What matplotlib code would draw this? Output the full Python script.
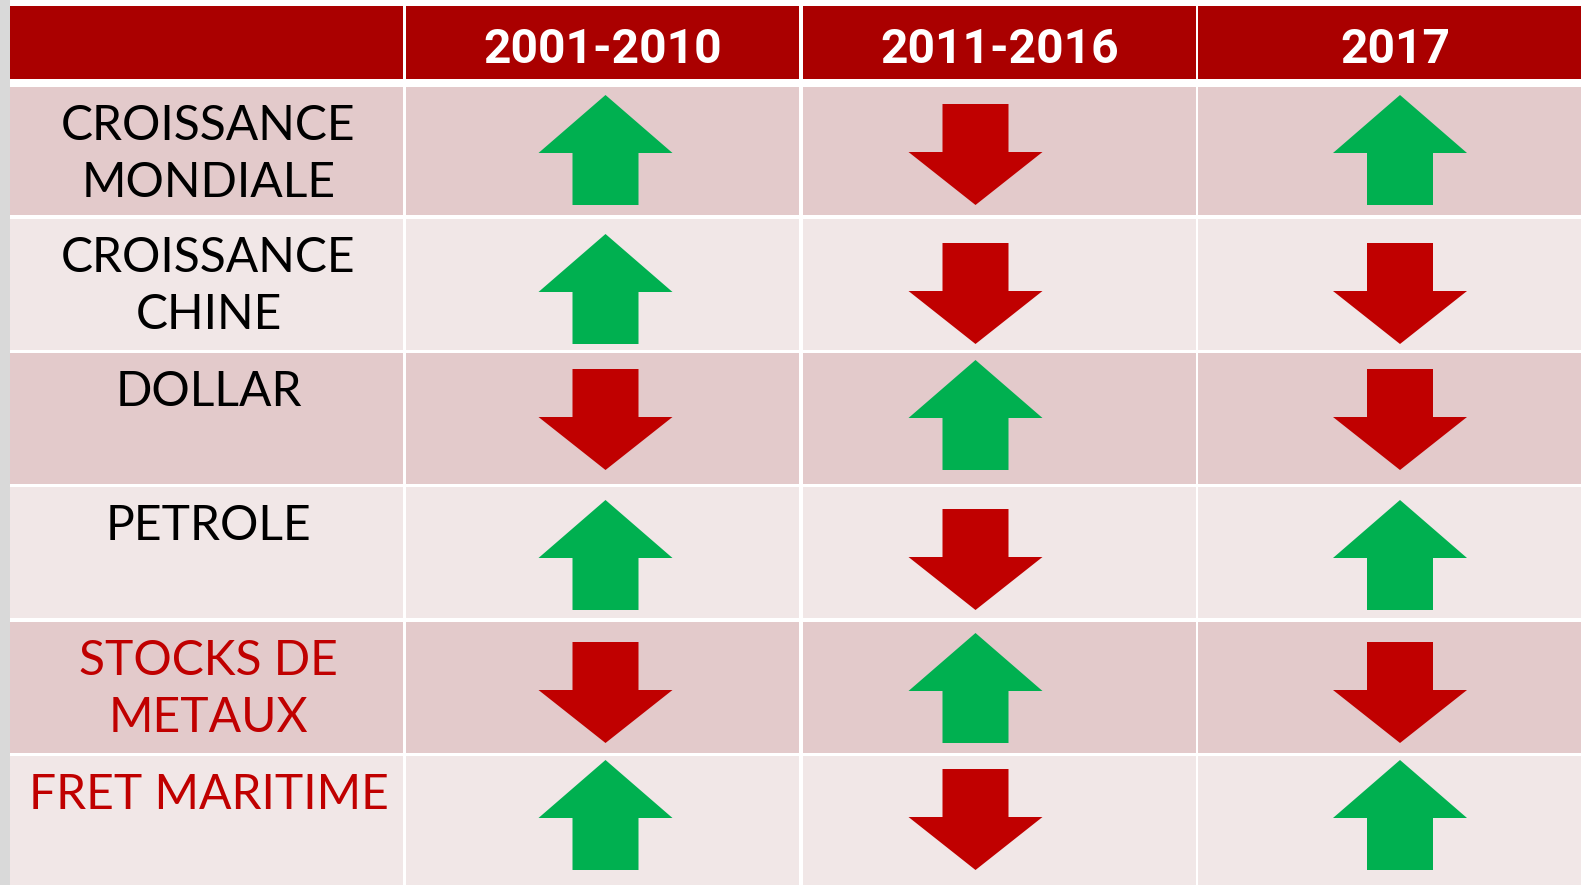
import matplotlib.pyplot as plt
from matplotlib.patches import Rectangle, Polygon

# table content
periods = ['2001-2010', '2011-2016', '2017']
indicators = ['CROISSANCE\nMONDIALE', 'CROISSANCE\nCHINE', 'DOLLAR',
              'PETROLE', 'STOCKS DE\nMETAUX', 'FRET MARITIME']
label_colors = ['black', 'black', 'black', 'black', '#C00000', '#C00000']
# +1 = up (green), -1 = down (red)
trend_2001_2010 = [1, 1, -1, 1, -1, 1]
trend_2011_2016 = [-1, -1, 1, -1, 1, -1]
trend_2017 = [1, -1, -1, 1, -1, 1]
trends = [trend_2001_2010, trend_2011_2016, trend_2017]

W, H = 1581, 885
DPI = 100
HEADER = '#AA0000'
ROW_DARK = '#E3CACB'
ROW_LIGHT = '#F1E7E7'
GREEN = '#00B050'
RED = '#C00000'

# layout in pixels
col_edges = [10, 403, 406, 799, 803, 1196, 1198, 1592]
header_top, header_bot = 6, 79
row_tops = [87, 219, 353, 487, 622, 756]
row_bots = [215, 350, 484, 618, 753, 890]
arrow_dx = [3, -24, 5]
arrow_bottom = [118, 125, 117, 123, 121, 114]


def px(v):
    return v * 72.0 / DPI


def arrow(cx, bottom, up):
    hw, sw = 67, 33
    if up:
        hh, sh = 58, 52
        tip = bottom - hh - sh
        pts = [(cx, tip), (cx + hw, tip + hh), (cx + sw, tip + hh),
               (cx + sw, bottom), (cx - sw, bottom), (cx - sw, tip + hh),
               (cx - hw, tip + hh)]
    else:
        sh, hh = 48, 53
        top = bottom - sh - hh
        pts = [(cx - sw, top), (cx + sw, top), (cx + sw, top + sh),
               (cx + hw, top + sh), (cx, bottom), (cx - hw, top + sh),
               (cx - sw, top + sh)]
    return Polygon(pts, closed=True, facecolor=GREEN if up else RED,
                   edgecolor='none')


fig = plt.figure(figsize=(W / DPI, H / DPI), dpi=DPI, facecolor='white')
ax = fig.add_axes([0, 0, 1, 1])
ax.set_xlim(0, W)
ax.set_ylim(H, 0)
ax.axis('off')

# grey background strip on the left
ax.add_patch(Rectangle((0, 0), 10, H, facecolor='#D9D9D9', edgecolor='none'))

ncols = len(col_edges) // 2
for c in range(ncols):
    x0, x1 = col_edges[2 * c], col_edges[2 * c + 1]
    ax.add_patch(Rectangle((x0, header_top), x1 - x0, header_bot - header_top,
                           facecolor=HEADER, edgecolor='none'))
    for r in range(len(indicators)):
        fc = ROW_DARK if r % 2 == 0 else ROW_LIGHT
        ax.add_patch(Rectangle((x0, row_tops[r]), x1 - x0, row_bots[r] - row_tops[r],
                               facecolor=fc, edgecolor='none'))

# header labels
for i, p in enumerate(periods):
    x0, x1 = col_edges[2 * (i + 1)], col_edges[2 * (i + 1) + 1]
    ax.text((x0 + x1) / 2, 63, p, color='white', fontsize=px(48),
            fontweight='bold', family='Roboto', ha='center', va='baseline')

# row labels
lx = (col_edges[0] + col_edges[1]) / 2 + 2
for r, lab in enumerate(indicators):
    for k, line in enumerate(lab.split('\n')):
        ax.text(lx, row_tops[r] + 53 + 57 * k, line, color=label_colors[r],
                fontsize=px(48), family='Lato',
                ha='center', va='baseline')

# arrows
for i, col in enumerate(trends):
    x0, x1 = col_edges[2 * (i + 1)], col_edges[2 * (i + 1) + 1]
    cx = (x0 + x1) / 2 + arrow_dx[i]
    for r, t in enumerate(col):
        ax.add_patch(arrow(cx, row_tops[r] + arrow_bottom[r], t > 0))

fig.savefig('out.png', dpi=DPI, facecolor=fig.get_facecolor())
